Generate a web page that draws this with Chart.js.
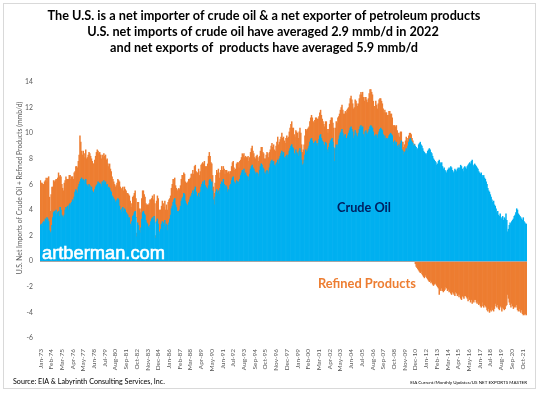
<!DOCTYPE html>
<html>
<head>
<meta charset="utf-8">
<script src="https://cdn.jsdelivr.net/npm/chart.js@4/dist/chart.umd.min.js"></script>
<style>
html,body{margin:0;padding:0;background:#fff;}
#wrap{position:relative;width:540px;height:393px;}
canvas{display:block;}
</style>
</head>
<body>
<div id="wrap"><canvas id="c" width="540" height="393"></canvas></div>
<script>
// ---- DATA (monthly, Jan-1973 .. Mar-2022), mmb/d ----
const monthNames = ['Jan','Feb','Mar','Apr','May','Jun','Jul','Aug','Sep','Oct','Nov','Dec'];
const firstYear = 1973;
const lastYear = 2022;
const lastYearMonths = 3;

const titleLines = [
  'The U.S. is a net importer of crude oil & a net exporter of petroleum products',
  'U.S. net imports of crude oil have averaged 2.9 mmb/d in 2022',
  'and net exports of  products have averaged 5.9 mmb/d'
];
const yTicks = [-6, -4, -2, 0, 2, 4, 6, 8, 10, 12, 14];

const crude = [
/*1973*/ 2.8,2.9,2.7,3.0,3.1,3.0,3.3,3.2,3.4,3.3,3.1,2.4,
/*1974*/ 2.2,2.3,2.8,3.4,3.8,3.9,3.7,4.0,3.6,3.8,3.9,3.5,
/*1975*/ 4.2,4.0,3.6,3.5,3.4,3.6,4.0,4.2,4.1,4.3,4.0,4.4,
/*1976*/ 4.5,4.3,4.6,4.8,4.7,5.0,5.4,5.6,5.5,5.3,5.8,6.0,
/*1977*/ 6.2,6.4,6.5,6.3,6.4,6.1,6.3,6.4,6.0,5.9,5.8,6.0,
/*1978*/ 5.9,5.6,5.8,5.5,5.4,5.3,5.6,5.8,5.9,6.0,6.2,6.1,
/*1979*/ 6.1,6.0,5.8,6.2,6.0,6.3,6.1,6.2,5.9,6.0,5.7,5.8,
/*1980*/ 5.7,5.5,5.4,5.1,5.0,4.9,4.8,4.6,4.7,4.8,4.9,4.8,
/*1981*/ 4.3,4.0,3.8,4.1,4.2,3.9,4.1,4.0,3.8,3.7,3.6,3.4,
/*1982*/ 3.4,2.9,2.7,3.1,3.5,3.6,3.8,3.9,3.4,1.9,3.0,2.8,
/*1983*/ 2.4,2.2,2.6,3.3,3.8,3.9,3.7,3.6,3.2,3.0,2.9,2.7,
/*1984*/ 2.6,2.8,3.1,3.3,3.4,3.2,3.5,3.0,1.8,3.1,3.3,2.9,
/*1985*/ 2.1,2.3,2.5,2.9,3.1,3.0,2.8,3.2,2.7,2.9,2.4,2.8,
/*1986*/ 3.0,3.3,3.6,4.1,4.3,4.6,4.8,4.9,4.4,4.2,3.9,3.8,
/*1987*/ 3.9,4.0,4.3,4.7,4.9,5.0,5.3,5.2,4.7,4.5,4.4,4.3,
/*1988*/ 4.6,4.8,5.0,5.1,5.3,5.5,5.2,5.6,5.8,5.4,5.1,5.0,
/*1989*/ 5.3,5.0,5.4,5.8,6.0,6.2,6.0,6.3,5.9,5.8,5.7,5.6,
/*1990*/ 5.9,6.3,6.4,6.1,6.2,5.5,4.8,4.4,5.0,5.4,5.6,5.3,
/*1991*/ 5.5,5.2,5.7,6.0,6.2,6.1,6.4,6.0,5.7,5.9,5.8,5.4,
/*1992*/ 5.6,5.5,5.9,6.0,6.3,6.5,6.6,6.2,6.1,6.0,6.3,6.2,
/*1993*/ 6.2,6.0,6.4,6.7,6.9,7.1,7.0,7.2,6.8,6.9,6.7,6.6,
/*1994*/ 6.6,6.3,6.8,7.2,7.4,7.5,7.3,7.2,7.0,6.8,6.9,6.9,
/*1995*/ 6.8,6.6,7.1,7.4,7.6,7.5,7.3,7.2,6.9,6.8,7.0,7.1,
/*1996*/ 7.0,6.8,7.3,7.6,7.8,7.9,7.7,7.8,7.5,7.4,7.6,7.7,
/*1997*/ 7.9,7.6,8.0,8.2,8.4,8.6,8.3,8.5,8.1,8.0,8.2,8.3,
/*1998*/ 8.1,8.3,8.6,8.8,9.0,9.1,8.9,8.8,8.4,8.3,8.7,8.5,
/*1999*/ 8.4,8.2,8.6,8.8,8.5,7.9,7.5,7.6,7.9,8.3,8.7,8.5,
/*2000*/ 8.6,8.8,9.0,9.3,9.5,9.6,9.4,9.2,9.0,9.3,9.4,9.2,
/*2001*/ 9.0,9.2,9.5,9.8,9.9,9.6,9.4,9.3,9.1,9.0,9.3,9.2,
/*2002*/ 8.7,8.5,8.9,9.2,9.4,9.5,9.6,9.3,8.9,7.8,8.8,9.1,
/*2003*/ 8.9,9.1,9.5,9.8,10.0,10.1,10.3,10.0,9.7,9.8,9.9,9.6,
/*2004*/ 9.6,9.8,10.0,10.2,10.4,10.5,10.3,10.1,9.6,9.8,10.2,10.0,
/*2005*/ 9.8,9.7,10.0,10.3,10.5,10.6,10.4,10.5,9.9,9.7,10.1,10.2,
/*2006*/ 10.0,9.9,10.1,10.3,10.5,10.6,10.5,10.4,10.1,9.8,9.7,9.9,
/*2007*/ 9.8,9.6,9.9,10.1,10.3,10.4,10.3,10.2,9.9,9.6,9.8,9.5,
/*2008*/ 9.6,9.5,9.6,9.8,9.9,10.0,9.9,9.8,9.0,9.3,9.4,9.2,
/*2009*/ 9.3,9.0,8.8,9.1,8.9,9.2,9.4,8.7,8.6,8.3,8.5,8.6,
/*2010*/ 8.8,8.6,9.0,9.3,9.5,9.6,9.4,9.3,9.2,9.0,9.1,9.0,
/*2011*/ 8.9,8.7,8.8,9.1,9.2,9.3,9.1,9.0,8.8,8.6,8.5,8.4,
/*2012*/ 8.3,8.4,8.6,8.7,8.8,8.7,8.5,8.4,8.2,8.0,7.9,7.8,
/*2013*/ 7.7,7.5,7.6,7.8,7.9,7.7,7.6,7.7,7.4,7.2,7.3,7.1,
/*2014*/ 7.0,6.9,7.1,7.2,7.3,7.2,7.4,7.3,7.1,6.9,7.0,7.2,
/*2015*/ 7.1,7.0,7.2,7.3,7.1,7.3,7.5,7.4,7.2,7.0,7.3,7.4,
/*2016*/ 7.3,7.2,7.4,7.5,7.6,7.7,7.6,7.8,7.9,7.5,7.4,7.6,
/*2017*/ 7.5,7.4,7.3,7.2,7.0,6.9,6.8,6.9,6.7,6.6,6.7,6.5,
/*2018*/ 6.4,6.2,6.0,5.7,5.5,5.4,5.2,5.0,4.8,4.6,4.7,4.4,
/*2019*/ 4.3,4.1,3.8,3.9,3.6,3.5,3.7,3.4,3.3,3.5,3.2,3.4,
/*2020*/ 3.3,3.7,3.2,2.3,2.5,2.8,3.0,2.9,3.1,3.2,3.3,3.5,
/*2021*/ 3.6,3.8,4.1,4.0,3.7,3.6,3.5,3.4,3.3,3.2,3.4,3.1,
/*2022*/ 3.0,2.9,2.9
];

const products = [
/*1973*/ 3.5,3.2,3.4,3.0,2.9,3.2,3.0,3.3,2.8,3.2,3.5,2.6,
/*1974*/ 1.7,2.9,3.0,2.4,2.5,2.3,2.6,2.4,2.8,2.7,3.0,3.1,
/*1975*/ 2.5,2.6,2.4,2.2,2.1,2.5,2.3,2.4,2.3,2.1,2.4,2.3,
/*1976*/ 2.2,2.1,2.0,1.8,1.7,1.9,1.6,1.8,1.9,2.0,2.0,2.3,
/*1977*/ 3.6,2.9,2.1,2.0,2.2,2.0,2.1,2.3,2.0,2.2,2.5,2.5,
/*1978*/ 2.5,2.6,2.2,2.3,2.2,2.3,2.3,2.4,2.6,2.7,2.4,2.3,
/*1979*/ 2.4,2.3,2.2,2.1,2.1,2.1,2.1,2.1,2.0,2.0,1.9,1.6,
/*1980*/ 1.9,1.7,1.6,1.5,1.4,1.3,1.2,1.2,1.2,1.3,1.5,1.5,
/*1981*/ 1.9,1.8,1.8,1.6,1.6,1.6,1.7,1.6,1.7,1.6,1.7,1.8,
/*1982*/ 1.7,1.8,1.5,1.4,1.5,1.5,1.5,1.6,1.5,0.3,1.6,1.8,
/*1983*/ 1.7,1.6,1.5,1.6,1.7,1.6,1.5,1.4,1.3,1.4,1.5,1.7,
/*1984*/ 1.9,2.0,1.7,1.6,1.7,1.6,1.7,1.5,0.2,1.6,1.8,2.0,
/*1985*/ 1.9,1.7,1.5,1.4,1.6,1.5,1.4,1.5,1.3,1.5,1.6,1.8,
/*1986*/ 1.8,1.6,1.5,1.6,1.7,1.8,1.6,1.6,1.5,1.5,1.6,1.8,
/*1987*/ 1.8,1.6,1.6,1.7,1.8,1.7,1.6,1.6,1.5,1.6,1.7,1.9,
/*1988*/ 1.8,1.6,1.5,1.7,1.5,1.6,1.6,1.8,1.7,1.6,1.8,1.9,
/*1989*/ 1.9,1.7,1.6,1.7,1.6,1.5,1.6,1.5,1.5,1.6,1.7,2.0,
/*1990*/ 2.3,2.2,1.8,1.6,1.4,1.2,1.0,0.9,1.1,1.3,1.5,1.6,
/*1991*/ 1.7,1.3,1.2,1.1,1.2,1.0,1.0,1.2,1.1,1.2,1.3,1.5,
/*1992*/ 1.4,1.3,1.1,1.0,1.1,1.2,1.2,1.1,1.0,1.2,1.3,1.5,
/*1993*/ 1.5,1.3,1.4,1.2,1.2,1.3,1.3,1.2,1.3,1.3,1.4,1.5,
/*1994*/ 1.6,1.5,1.3,1.3,1.4,1.5,1.3,1.2,1.1,1.2,1.3,1.4,
/*1995*/ 1.3,1.2,1.1,1.2,1.3,1.4,1.2,1.2,1.1,1.2,1.3,1.4,
/*1996*/ 1.4,1.3,1.2,1.1,1.2,1.3,1.2,1.3,1.2,1.2,1.4,1.6,
/*1997*/ 1.8,1.5,1.3,1.3,1.3,1.4,1.3,1.2,1.3,1.2,1.4,1.5,
/*1998*/ 1.5,1.4,1.5,1.6,1.7,1.8,1.5,1.6,1.5,1.4,1.5,1.6,
/*1999*/ 1.6,1.4,1.5,1.6,1.5,1.2,1.0,1.1,1.2,1.5,1.6,1.7,
/*2000*/ 1.7,1.6,1.5,1.6,1.7,1.8,1.8,1.7,1.8,1.7,1.8,2.0,
/*2001*/ 2.1,1.9,1.8,1.8,1.9,1.8,1.7,1.6,1.6,1.5,1.6,1.7,
/*2002*/ 1.6,1.5,1.4,1.5,1.6,1.7,1.6,1.5,1.5,1.0,1.6,1.8,
/*2003*/ 1.9,2.1,1.8,1.7,1.8,1.9,1.9,1.8,1.8,1.7,1.8,2.0,
/*2004*/ 2.2,2.1,2.0,2.1,2.3,2.4,2.3,2.2,2.3,2.2,2.4,2.5,
/*2005*/ 2.5,2.4,2.3,2.4,2.5,2.6,2.6,2.7,2.9,2.8,2.7,2.6,
/*2006*/ 2.6,2.5,2.6,2.8,2.9,2.8,2.7,2.6,2.4,2.3,2.4,2.6,
/*2007*/ 2.4,2.3,2.4,2.5,2.4,2.3,2.2,2.1,2.0,2.0,2.0,2.1,
/*2008*/ 2.0,1.9,1.8,1.9,1.8,1.5,1.6,1.4,1.6,1.3,1.2,1.3,
/*2009*/ 1.3,1.2,1.0,0.9,0.8,0.9,0.7,0.6,0.7,0.6,0.6,0.8,
/*2010*/ 0.9,0.8,0.6,0.5,0.5,0.4,0.5,0.3,0.2,0.1,0.05,-0.2,
/*2011*/ -0.4,-0.5,-0.6,-0.7,-0.8,-0.9,-0.8,-1.0,-1.1,-1.2,-1.3,-1.1,
/*2012*/ -1.2,-1.3,-1.4,-1.5,-1.6,-1.5,-1.7,-1.6,-1.8,-1.9,-1.8,-1.7,
/*2013*/ -1.8,-1.9,-2.0,-2.1,-2.6,-2.2,-2.3,-2.1,-2.3,-2.4,-2.3,-2.2,
/*2014*/ -2.0,-2.1,-2.3,-2.2,-2.4,-2.3,-2.5,-2.6,-2.4,-2.5,-2.6,-2.7,
/*2015*/ -2.4,-2.5,-2.7,-2.6,-2.8,-2.6,-2.9,-3.0,-2.7,-2.8,-2.9,-2.7,
/*2016*/ -2.7,-2.8,-2.9,-3.1,-2.8,-3.0,-3.2,-3.0,-3.3,-3.1,-3.2,-3.0,
/*2017*/ -3.0,-3.2,-3.3,-3.1,-3.4,-3.3,-3.5,-3.6,-3.2,-3.5,-3.6,-3.4,
/*2018*/ -3.5,-3.6,-3.8,-3.9,-3.7,-4.0,-3.8,-3.9,-3.6,-3.8,-3.9,-3.7,
/*2019*/ -3.3,-3.5,-3.6,-3.4,-3.7,-3.8,-3.5,-3.6,-3.9,-3.6,-3.7,-3.8,
/*2020*/ -3.7,-3.5,-3.4,-2.6,-2.9,-3.2,-3.4,-3.6,-3.3,-3.5,-3.7,-3.6,
/*2021*/ -3.5,-3.6,-3.4,-3.8,-3.9,-3.7,-3.9,-4.0,-3.8,-4.1,-4.2,-4.1,
/*2022*/ -4.2,-4.1,-4.2
];

// ---- category labels ----
const labels = [];
for (let y = firstYear; y <= lastYear; y++) {
  const nm = (y === lastYear) ? lastYearMonths : 12;
  for (let m = 0; m < nm; m++) labels.push(monthNames[m] + '-' + String(y % 100).padStart(2, '0'));
}
const labelEvery = 13;

// ---- helpers ----
function fitSize(ctx, text, weight, family, targetW) {
  ctx.font = weight + ' 20px ' + family;
  const w = ctx.measureText(text).width;
  return 20 * targetW / w;
}

const textPlugin = {
  id: 'texts',
  beforeDraw(chart) {
    const ctx = chart.ctx;
    ctx.save();
    ctx.fillStyle = '#ffffff';
    ctx.fillRect(0, 0, chart.width, chart.height);
    ctx.restore();
  },
  afterDatasetsDraw(chart) {
    const ctx = chart.ctx;
    const ys = chart.scales.y;
    const ca = chart.chartArea;
    ctx.save();
    // zero line
    const y0 = Math.round(ys.getPixelForValue(0)) + 0.5;
    ctx.strokeStyle = '#a6a6a6';
    ctx.lineWidth = 1;
    ctx.beginPath(); ctx.moveTo(ca.left, y0); ctx.lineTo(ca.right, y0); ctx.stroke();

    // watermark
    const fam = '"Liberation Sans", Arial, sans-serif';
    const s1 = fitSize(ctx, 'artberman.com', 'normal', fam, 123);
    ctx.font = 'normal ' + s1.toFixed(2) + 'px ' + fam;
    ctx.fillStyle = '#ffffff';
    ctx.strokeStyle = '#ffffff';
    ctx.lineWidth = 0.6;
    ctx.textAlign = 'left'; ctx.textBaseline = 'alphabetic';
    ctx.fillText('artberman.com', 42, 259);
    ctx.strokeText('artberman.com', 42, 259);

    const lat = 'Lato, "Noto Sans", sans-serif';
    const s2 = fitSize(ctx, 'Crude Oil', 'bold', lat, 54);
    ctx.font = 'bold ' + s2.toFixed(2) + 'px ' + lat;
    ctx.fillStyle = '#002060';
    ctx.fillText('Crude Oil', 337, 212);

    const s3 = fitSize(ctx, 'Refined Products', 'bold', lat, 98);
    ctx.font = 'bold ' + s3.toFixed(2) + 'px ' + lat;
    ctx.fillStyle = '#ed7d31';
    ctx.fillText('Refined Products', 318, 288);
    ctx.restore();
  },
  afterDraw(chart) {
    const ctx = chart.ctx;
    ctx.save();
    const lat = 'Lato, "Noto Sans", sans-serif';
    // frame
    ctx.strokeStyle = '#d9d9d9';
    ctx.lineWidth = 1;
    ctx.strokeRect(3.5, 3.5, 532, 385);

    // title
    const ts = fitSize(ctx, titleLines[0], 'bold', lat, 433);
    ctx.font = 'bold ' + ts.toFixed(2) + 'px ' + lat;
    ctx.fillStyle = '#000000';
    ctx.textAlign = 'center'; ctx.textBaseline = 'alphabetic';
    ctx.fillText(titleLines[0], 264, 20);
    ctx.fillText(titleLines[1], 263, 36);
    ctx.fillText(titleLines[2], 264, 52);

    // y axis title
    ctx.save();
    ctx.translate(20, 188);
    ctx.rotate(-Math.PI / 2);
    ctx.font = 'normal 6.8px ' + lat;
    ctx.fillStyle = '#595959';
    ctx.textAlign = 'center'; ctx.textBaseline = 'middle';
    ctx.fillText('U.S. Net Imports of Crude Oil + Refined Products (mmb/d)', 0, 0);
    ctx.restore();

    // footers
    const srcTxt = 'Source: EIA & Labyrinth Consulting Services, Inc.';
    const fs1 = fitSize(ctx, srcTxt, 'normal', lat, 152);
    ctx.font = 'normal ' + fs1.toFixed(2) + 'px ' + lat;
    ctx.fillStyle = '#000000';
    ctx.textAlign = 'left';
    ctx.fillText(srcTxt, 13, 384);
    const rTxt = 'EIA Current/Monthly Updates/US NET EXPORTS MASTER';
    const fs2 = fitSize(ctx, rTxt, 'normal', lat, 117);
    ctx.font = 'normal ' + fs2.toFixed(2) + 'px ' + lat;
    ctx.textAlign = 'right';
    ctx.fillText(rTxt, 527, 384);
    ctx.restore();
  }
};

const ctx = document.getElementById('c').getContext('2d');
new Chart(ctx, {
  type: 'bar',
  data: {
    labels: labels,
    datasets: [
      { label: 'Crude Oil', data: crude, backgroundColor: '#00b0f0', stack: 's' },
      { label: 'Refined Products', data: products, backgroundColor: '#ed7d31', stack: 's' }
    ]
  },
  options: {
    responsive: false,
    animation: false,
    devicePixelRatio: 1,
    layout: { padding: { top: 82, right: 13, left: 0, bottom: 0 } },
    datasets: { bar: { barPercentage: 1, categoryPercentage: 1, borderWidth: 0 } },
    scales: {
      x: {
        stacked: true,
        grid: { display: false },
        border: { display: false },
        ticks: {
          autoSkip: false, maxRotation: 90, minRotation: 90,
          font: { size: 6.5, family: 'Lato, "Noto Sans", sans-serif' },
          color: '#595959', padding: 3,
          callback: (v, i) => (i % labelEvery === 0 ? labels[i] : null)
        },
        afterFit: s => { s.height = 55; }
      },
      y: {
        stacked: true,
        min: -6, max: 14,
        afterBuildTicks: s => { s.ticks = yTicks.map(v => ({ value: v })); },
        grid: { display: false, drawTicks: false },
        border: { display: false },
        ticks: {
          font: { size: 6.8, family: 'Lato, "Noto Sans", sans-serif' },
          color: '#595959', padding: 7
        },
        afterFit: s => { s.width = 40; }
      }
    },
    plugins: { legend: { display: false }, title: { display: false }, tooltip: { enabled: false } }
  },
  plugins: [textPlugin]
});
</script>
</body>
</html>
